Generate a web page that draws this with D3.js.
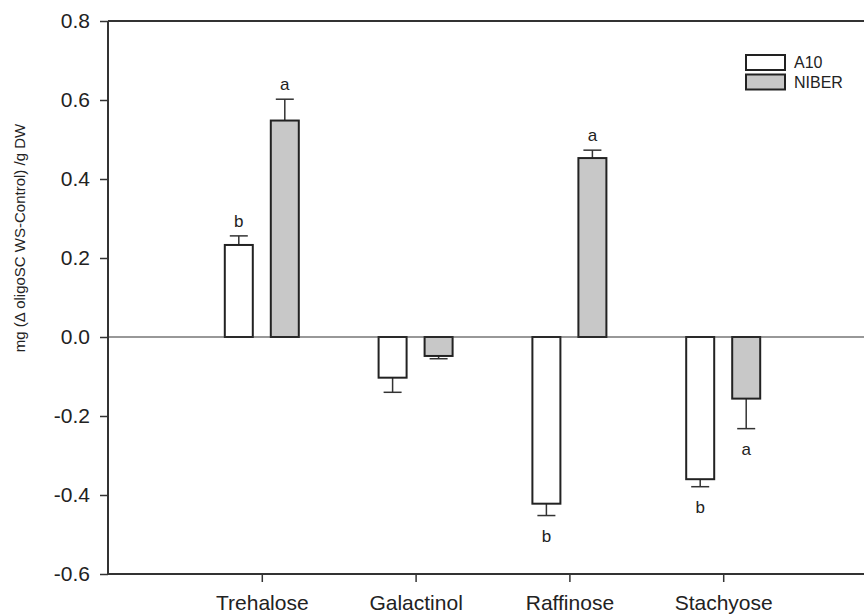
<!DOCTYPE html>
<meta charset="utf-8">
<script src="https://d3js.org/d3.v7.min.js"></script>
<style>
body { margin: 0; background: #fff; }
text { font-family: "Liberation Sans", Arial, sans-serif; fill: #222; }
</style>
<div id="my_dataviz"></div>
<script>
var categories = ["Trehalose", "Galactinol", "Raffinose", "Stachyose"]
var series = ["A10", "NIBER"]
var a10 = [0.233, -0.103, -0.422, -0.360]
var a10Err = [0.023, 0.037, 0.030, 0.019]
var niber = [0.548, -0.048, 0.453, -0.156]
var niberErr = [0.054, 0.007, 0.020, 0.076]
var a10Letters = ["b", "", "b", "b"]
var niberLetters = ["a", "", "a", "a"]
var yTicks = [-0.6, -0.4, -0.2, 0.0, 0.2, 0.4, 0.6, 0.8]

var width = 864, height = 615
var svg = d3.select("#my_dataviz")
  .append("svg")
    .attr("width", width)
    .attr("height", height)

var x = d3.scaleLinear()
  .domain([0, 5])
  .range([108, 877])
var y = d3.scaleLinear()
  .domain([-0.6, 0.8])
  .range([574, 21])

var color = d3.scaleOrdinal().domain(series).range(["#ffffff", "#c8c8c8"])
var barW = 28, offset = 23, capW = 18

// build rows from the arrays
var rows = []
categories.forEach(function(c, i) {
  rows.push({cat: c, i: i + 1, s: "A10", v: a10[i], e: a10Err[i], l: a10Letters[i], dx: -offset})
  rows.push({cat: c, i: i + 1, s: "NIBER", v: niber[i], e: niberErr[i], l: niberLetters[i], dx: offset})
})

var styleAxis = function(g) {
  g.select(".domain").remove()
  g.selectAll("line").attr("stroke", "#333").attr("stroke-width", 1.5)
  g.selectAll("text").style("font-size", "21px").attr("font-family", "Liberation Sans, Arial, sans-serif").attr("fill", "#222")
}

// axes
svg.append("g")
  .attr("transform", "translate(108,0)")
  .call(d3.axisLeft(y).tickValues(yTicks)
    .tickFormat(function(d) { return d3.format(".1f")(d).replace("\u2212", "-") })
    .tickSize(8).tickPadding(10))
  .call(styleAxis)

svg.append("g")
  .attr("transform", "translate(0," + y(-0.6) + ")")
  .call(d3.axisBottom(x).tickValues([1, 2, 3, 4]).tickFormat(function(d) { return categories[d - 1] }).tickSize(8).tickPadding(13))
  .call(styleAxis)

// frame lines: left, top, bottom
svg.append("line").attr("x1", 108).attr("x2", 108).attr("y1", y(0.8)).attr("y2", y(-0.6))
  .attr("stroke", "#333").attr("stroke-width", 2)
svg.append("line").attr("x1", 108).attr("x2", width).attr("y1", y(0.8)).attr("y2", y(0.8))
  .attr("stroke", "#333").attr("stroke-width", 2)
svg.append("line").attr("x1", 108).attr("x2", width).attr("y1", y(-0.6)).attr("y2", y(-0.6))
  .attr("stroke", "#333").attr("stroke-width", 2)

// y label
svg.append("text")
  .attr("transform", "translate(25," + 238 + ") rotate(-90)")
  .attr("text-anchor", "middle")
  .style("font-size", "15px")
  .text("mg (\u0394 oligoSC WS-Control) /g DW")

// error bars (one side, away from zero)
var errs = svg.append("g")
errs.selectAll("line.stem")
  .data(rows)
  .enter()
  .append("line")
    .attr("x1", function(d) { return x(d.i) + d.dx })
    .attr("x2", function(d) { return x(d.i) + d.dx })
    .attr("y1", function(d) { return y(d.v) })
    .attr("y2", function(d) { return y(d.v + Math.sign(d.v) * d.e) })
    .attr("stroke", "#333").attr("stroke-width", 1.5)
errs.selectAll("line.cap")
  .data(rows)
  .enter()
  .append("line")
    .attr("x1", function(d) { return x(d.i) + d.dx - capW / 2 })
    .attr("x2", function(d) { return x(d.i) + d.dx + capW / 2 })
    .attr("y1", function(d) { return y(d.v + Math.sign(d.v) * d.e) })
    .attr("y2", function(d) { return y(d.v + Math.sign(d.v) * d.e) })
    .attr("stroke", "#333").attr("stroke-width", 1.5)

// bars
svg.append("g")
  .selectAll("rect")
  .data(rows)
  .enter()
  .append("rect")
    .attr("x", function(d) { return x(d.i) + d.dx - barW / 2 })
    .attr("y", function(d) { return y(Math.max(0, d.v)) })
    .attr("width", barW)
    .attr("height", function(d) { return Math.abs(y(d.v) - y(0)) })
    .style("fill", function(d) { return color(d.s) })
    .attr("stroke", "#222")
    .attr("stroke-width", 2)

// zero line
svg.append("line").attr("x1", 108).attr("x2", width).attr("y1", y(0)).attr("y2", y(0))
  .attr("stroke", "#333").attr("stroke-width", 1.2)

// significance letters
svg.append("g")
  .selectAll("text")
  .data(rows.filter(function(d) { return d.l }))
  .enter()
  .append("text")
    .attr("x", function(d) { return x(d.i) + d.dx })
    .attr("y", function(d) {
      var end = y(d.v + Math.sign(d.v) * d.e)
      return d.v > 0 ? end - 9 : end + 26
    })
    .attr("text-anchor", "middle")
    .style("font-size", "17px")
    .text(function(d) { return d.l })

// legend
var lg = svg.append("g")
lg.selectAll("rect")
  .data(series)
  .enter()
  .append("rect")
    .attr("x", 746)
    .attr("y", function(d, i) { return 55 + i * 19.5 })
    .attr("width", 39)
    .attr("height", 15)
    .style("fill", function(d) { return color(d) })
    .attr("stroke", "#222")
    .attr("stroke-width", 2)
lg.selectAll("text")
  .data(series)
  .enter()
  .append("text")
    .attr("x", 794)
    .attr("y", function(d, i) { return 68 + i * 19.5 })
    .style("font-size", "16px")
    .text(function(d) { return d })
</script>
